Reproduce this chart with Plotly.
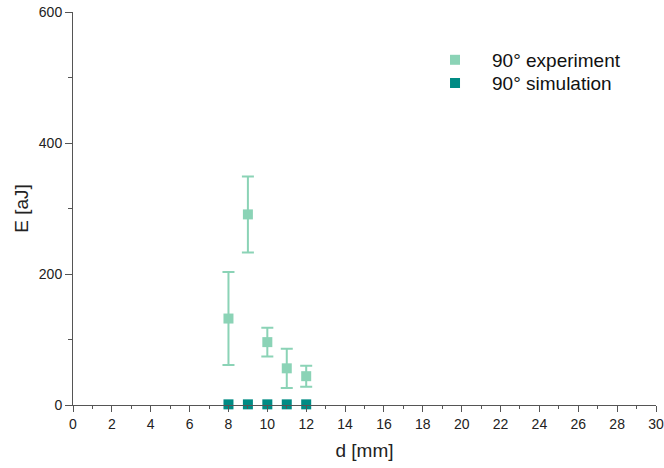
import plotly.graph_objects as go

d_exp = [8, 9, 10, 11, 12]
E_exp = [132, 291, 96, 56, 44]
E_exp_err = [71, 58, 22, 30, 16]

d_sim = [8, 9, 10, 11, 12]
E_sim = [1, 1, 1, 1, 1]

c_exp = "#8BD3B6"
c_sim = "#008B84"
axis_col = "#555555"

fig = go.Figure()
fig.add_trace(go.Scatter(
    x=d_exp, y=E_exp, mode="markers", name="90° experiment", legend="legend",
    marker=dict(symbol="square", size=10, color=c_exp),
    error_y=dict(type="data", array=E_exp_err, visible=True, color=c_exp, thickness=2, width=6),
))
fig.add_trace(go.Scatter(
    x=d_sim, y=E_sim, mode="markers", name="90° simulation", legend="legend2",
    marker=dict(symbol="square", size=10, color=c_sim),
    cliponaxis=False,
))

font = "Liberation Sans, Arial, sans-serif"
leg_common = dict(xanchor="left", yanchor="middle", font=dict(size=19, color="#111111"),
                  bgcolor="rgba(0,0,0,0)", itemwidth=64, borderwidth=0)
fig.update_layout(
    width=664, height=468,
    margin=dict(l=73, r=8, t=12, b=63, autoexpand=False),
    plot_bgcolor="white", paper_bgcolor="white",
    font=dict(family=font, size=14, color="#222222"),
    showlegend=True,
    legend=dict(x=0.5918, y=0.878, **leg_common),
    legend2=dict(x=0.5918, y=0.819, **leg_common),
    xaxis=dict(
        range=[0, 30], dtick=2, tick0=0, showgrid=False, zeroline=False,
        showline=True, linecolor=axis_col, linewidth=1, automargin=False,
        ticks="outside", ticklen=6, tickcolor=axis_col,
        minor=dict(dtick=1, ticks="outside", ticklen=3, tickcolor=axis_col),
        title=dict(text="d [mm]", font=dict(size=19), standoff=12),
        tickfont=dict(size=14),
    ),
    yaxis=dict(
        range=[0, 600], dtick=200, tick0=0, showgrid=False, zeroline=False,
        showline=True, linecolor=axis_col, linewidth=1, automargin=False,
        ticks="outside", ticklen=7, tickcolor=axis_col,
        minor=dict(dtick=100, ticks="outside", ticklen=4, tickcolor=axis_col),
        title=dict(text="E [aJ]", font=dict(size=19), standoff=5),
        tickfont=dict(size=14),
    ),
)
fig.write_html("out.html", config={"displayModeBar": False},
               post_script="document.body.style.margin='0';")
